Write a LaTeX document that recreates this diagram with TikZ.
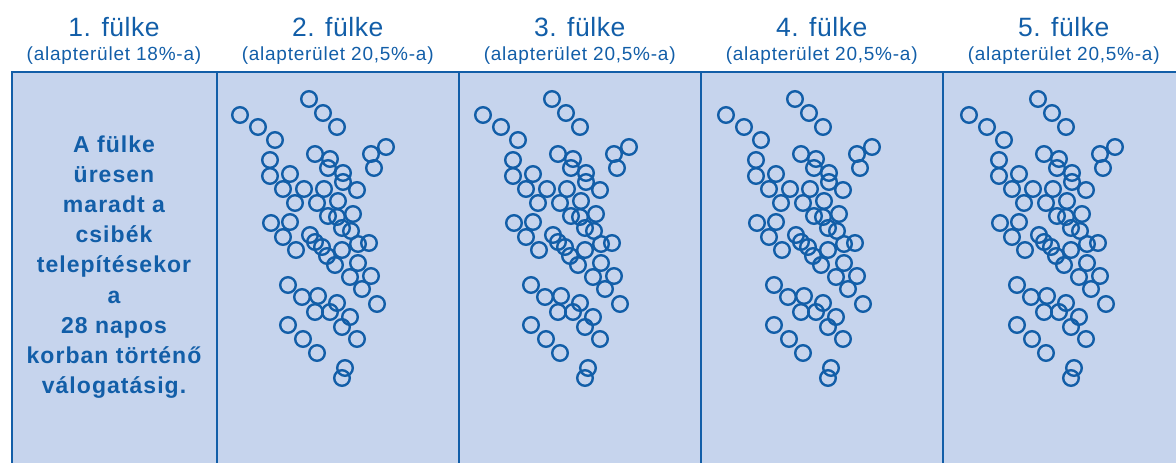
\documentclass[tikz,border=0pt]{standalone}
\usepackage{fontspec}
\setmainfont{Liberation Sans}[LetterSpace=2]
\newfontfamily\subfont{Liberation Sans}[LetterSpace=4]
\newfontfamily\notefont{Liberation Sans}[LetterSpace=4.5]
\usetikzlibrary{positioning}
\definecolor{fulkeblue}{RGB}{18,94,168}
\definecolor{fulkefill}{RGB}{198,212,237}
% circle centres of one compartment (px, y downwards)
\newcommand\chickpos{309/99, 240/115, 323/113, 258/127, 337/127, 275/140,
  386/147, 371/154, 315/154, 330/159, 270/160, 374/168, 328/168, 343/173,
  270/176, 290/174, 343/182, 283/189, 304/189, 324/189, 357/190, 295/203,
  317/203, 338/201, 353/214, 328/216, 337/217, 271/223, 290/222, 342/228,
  351/231, 283/237, 310/235, 315/242, 322/247, 296/250, 342/250, 358/244,
  369/243, 327/256, 335/265, 358/263, 350/277, 371/276, 288/285, 362/289,
  302/297, 318/296, 337/303, 377/304, 315/312, 330/312, 350/317, 342/327,
  288/325, 303/339, 357/339, 317/353, 345/368, 342/378}

\begin{document}
\begin{tikzpicture}[x=1pt, y=-1pt,
    title/.style={text=fulkeblue, inner sep=0pt, anchor=base, font=\fontsize{26.5}{28}\selectfont},
    subtitle/.style={text=fulkeblue, inner sep=0pt, anchor=base, font=\subfont\fontsize{19}{20}\selectfont},
    note/.style={text=fulkeblue, inner sep=0pt, align=center, font=\notefont\bfseries\fontsize{23}{30.2}\selectfont},
    wall/.style={draw=fulkeblue, line width=2pt},
    chick/.style={draw=fulkeblue, line width=2.4pt}]

    \useasboundingbox (0,0) rectangle (1176,463);
    \fill[fulkefill] (11.5,72) rectangle (1176,463);
    \draw[wall] (11.5,463) -- (11.5,72) -- (1176,72);
    \foreach \k in {0,...,3}
        \draw[wall] (216.7+242*\k,72) -- (216.7+242*\k,463);

    % headers
    \node[title] (h1) at (114,36) {1. fülke};
    \node[subtitle] (s1) at (114,60) {(alapterület 18\%-a)};
    \foreach \i in {2,...,5} {
        \node[title] (h\i) at (337.7+242*\i-484,36) {\i. fülke};
        \node[subtitle] (s\i) at (337.7+242*\i-484,60) {(alapterület 20,5\%-a)};
    }

    \node[note] (empty) at (114,267) {A fülke\\üresen\\maradt a\\csibék\\telepítésekor\\a\\28 napos\\korban történő\\válogatásig.};

    % chicks
    \foreach \k in {0,...,3}
        \foreach \x/\y in \chickpos
            \draw[chick] (\x+243*\k,\y) circle (7.8);
\end{tikzpicture}
\end{document}
